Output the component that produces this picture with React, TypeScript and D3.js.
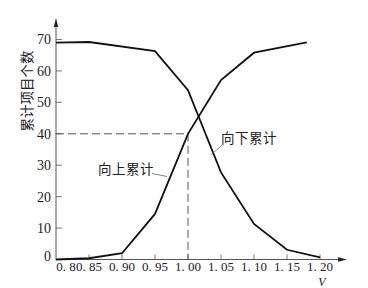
import React from "react";
import * as d3 from "d3";

// ---- data ----
const xTicks = [0.8, 0.85, 0.9, 0.95, 1.0, 1.05, 1.1, 1.15, 1.2];
const xTickLabels = ["0. 8", "0. 85", "0. 90", "0. 95", "1. 00", "1. 05", "1. 10", "1. 15", "1. 20"];
const yTicks = [0, 10, 20, 30, 40, 50, 60, 70];

// 向上累计 (cumulative upward)
const upV = [0.8, 0.85, 0.9, 0.95, 1.0, 1.05, 1.1, 1.18];
const upCount = [0, 0.4, 2.0, 14.5, 40, 57.1, 65.8, 69.1];

// 向下累计 (cumulative downward)
const downV = [0.8, 0.85, 0.95, 1.0, 1.05, 1.1, 1.15, 1.2];
const downCount = [69.0, 69.2, 66.3, 53.9, 27.7, 11.3, 3.1, 0.7];

// reference point
const refV = 1.0;
const refCount = 40;

const W = 368;
const H = 288;

export default function App() {
  const x = d3.scaleLinear().domain([0.8, 1.2]).range([56, 320]);
  const y = d3.scaleLinear().domain([0, 70]).range([259.5, 39.5]);

  const x0 = x(0.8);
  const y0 = y(0);
  const xEnd = 347;
  const yTop = 18;

  const line = d3
    .line<[number, number]>()
    .x((d) => x(d[0]))
    .y((d) => y(d[1]));

  const upPath = line(upV.map((v, i) => [v, upCount[i]]) as [number, number][]) || "";
  const downPath = line(downV.map((v, i) => [v, downCount[i]]) as [number, number][]) || "";

  const axisColor = "#555";
  const serif = "'Liberation Serif', 'DejaVu Serif', serif";
  const cjk = "'Noto Sans CJK SC', 'Noto Sans', sans-serif";

  return (
    <svg
      width={W}
      height={H}
      style={{ position: "absolute", left: 0, top: 0, background: "#fff" }}
    >
      {/* dashed reference lines */}
      <path
        d={`M${x0},${y(refCount)}H${x(refV)}V${y0}`}
        fill="none"
        stroke="#444"
        strokeWidth={0.9}
        strokeDasharray="8,4"
      />

      {/* axes */}
      <line x1={x0} y1={y0} x2={xEnd - 6} y2={y0} stroke={axisColor} strokeWidth={1} />
      <path d={`M${xEnd},${y0}L${xEnd - 9},${y0 - 2.2}L${xEnd - 9},${y0 + 2.2}Z`} fill="#222" />
      <line x1={x0} y1={y0} x2={x0} y2={yTop + 6} stroke={axisColor} strokeWidth={1} />
      <path d={`M${x0},${yTop}L${x0 - 2.2},${yTop + 9}L${x0 + 2.2},${yTop + 9}Z`} fill="#222" />

      {/* y ticks */}
      {yTicks.map((t) => (
        <g key={"y" + t}>
          {t !== 0 && (
            <line x1={x0} y1={y(t)} x2={x0 + 6} y2={y(t)} stroke={axisColor} strokeWidth={0.8} />
          )}
          <text
            x={x0 - 5}
            y={t === 0 ? y(t) - 3 : y(t)}
            dy="0.35em"
            textAnchor="end"
            fontFamily={serif}
            fontSize={14}
            fill="#222"
          >
            {t}
          </text>
        </g>
      ))}

      {/* x ticks */}
      {xTicks.map((t, i) => (
        <g key={"x" + t}>
          {i !== 0 && (
            <line x1={x(t)} y1={y0} x2={x(t)} y2={y0 - 5} stroke={axisColor} strokeWidth={0.8} />
          )}
          <text
            x={x(t) + (i === 0 ? 10 : 0)}
            y={271}
            textAnchor="middle"
            fontFamily={serif}
            fontSize={13}
            fill="#222"
          >
            {xTickLabels[i]}
          </text>
        </g>
      ))}

      {/* axis titles */}
      <text
        x={322}
        y={285.5}
        textAnchor="middle"
        fontFamily={serif}
        fontStyle="italic"
        fontSize={12}
        fill="#222"
      >
        V
      </text>
      <text
        transform={`translate(32, 91) rotate(-90)`}
        textAnchor="middle"
        fontFamily={cjk}
        fontSize={13.5}
        fill="#222"
      >
        累计项目个数
      </text>

      {/* curves */}
      <path d={upPath} fill="none" stroke="#111" strokeWidth={1.8} strokeLinejoin="miter" />
      <path d={downPath} fill="none" stroke="#111" strokeWidth={1.8} strokeLinejoin="miter" />

      {/* series labels with leader lines */}
      <text x={98} y={174} fontFamily={cjk} fontSize={13.5} letterSpacing={0.5} fill="#222">
        向上累计
      </text>
      <line x1={152} y1={173.5} x2={167} y2={176.5} stroke="#666" strokeWidth={0.8} />
      <text x={221} y={143} fontFamily={cjk} fontSize={13.5} letterSpacing={0.5} fill="#222">
        向下累计
      </text>
      <line x1={211} y1={155} x2={222} y2={145} stroke="#666" strokeWidth={0.8} />
    </svg>
  );
}
